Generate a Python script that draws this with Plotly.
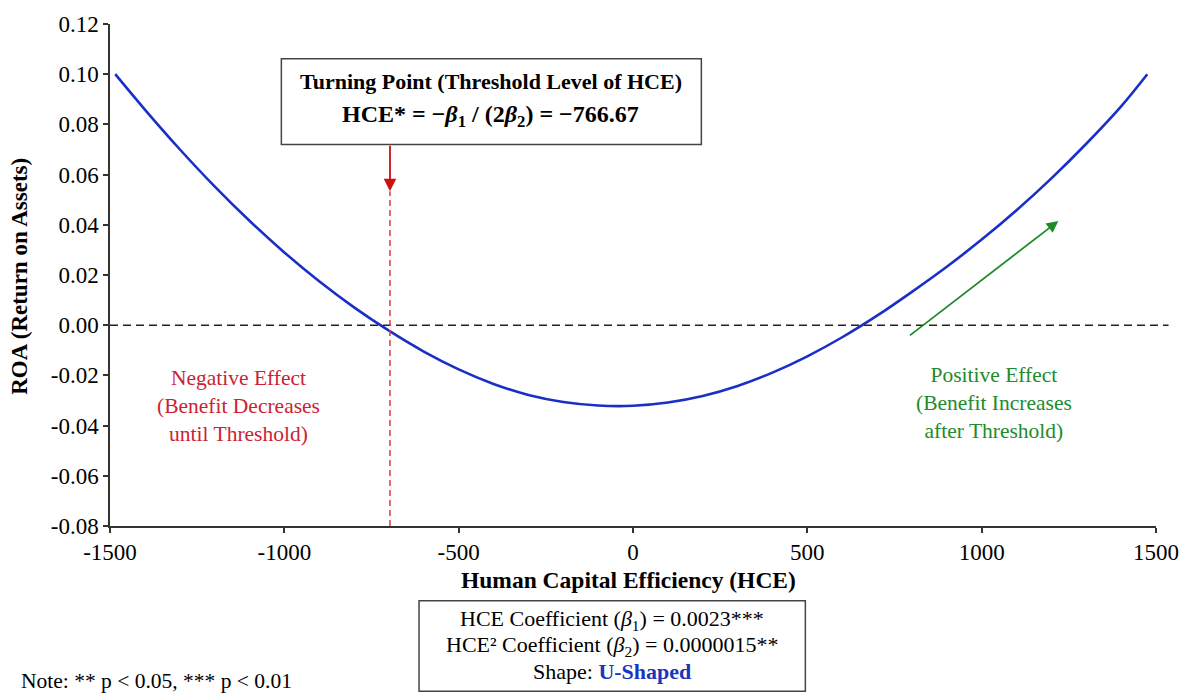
import plotly.graph_objects as go

# ---------------- data ----------------
hce = [-1485, -1400, -1300, -1200, -1100, -1000, -900, -800, -700, -600,
       -500, -400, -300, -200, -100, 0, 100, 200, 300, 400,
       500, 600, 700, 800, 900, 1000, 1100, 1200, 1300, 1400, 1475]
roa = [0.1000, 0.0859, 0.0701, 0.0553, 0.0416, 0.0290, 0.0175, 0.0071, -0.0022, -0.0105,
       -0.0176, -0.0234, -0.0278, -0.0306, -0.0320, -0.0321, -0.0308, -0.0282, -0.0242, -0.0189,
       -0.0124, -0.0048, 0.0038, 0.0133, 0.0233, 0.0341, 0.0458, 0.0585, 0.0723, 0.0872, 0.1000]

x_tickvals = [-1500, -1000, -500, 0, 500, 1000, 1500]
x_ticktext = ["-1500", "-1000", "-500", "0", "500", "1000", "1500"]
y_tickvals = [0.12, 0.10, 0.08, 0.06, 0.04, 0.02, 0.00, -0.02, -0.04, -0.06, -0.08]
y_ticktext = ["0.12", "0.10", "0.08", "0.06", "0.04", "0.02", "0.00", "-0.02", "-0.04", "-0.06", "-0.08"]

threshold_line_x = -697          # where the red dashed marker sits in the picture
green_arrow_tail = (790, -0.0045)
green_arrow_tip = (1220, 0.0415)

# ---------------- layout helpers ----------------
W, H = 1191, 694
PL, PR, PT, PB = 110, 1166, 22, 526
FONT = "Liberation Serif, Times New Roman, serif"


def px(x):
    return (x - PL) / (PR - PL)


def py(y):
    return (PB - y) / (PB - PT)


fig = go.Figure()
fig.add_trace(go.Scatter(x=hce, y=roa, mode="lines", line=dict(color="#1a2fc6", width=2.6, shape="spline"),
                         showlegend=False, hoverinfo="skip"))

shapes = []
# horizontal zero reference
shapes.append(dict(type="line", xref="paper", yref="y", x0=0, x1=1.012, y0=0, y1=0,
                   line=dict(color="#222222", width=1.5, dash="8px,5px")))
# red dashed threshold line
shapes.append(dict(type="line", xref="x", yref="paper", x0=threshold_line_x, x1=threshold_line_x,
                   y0=0, y1=py(190), line=dict(color="#e03c3c", width=1.5, dash="6px,4px")))
# top box
shapes.append(dict(type="rect", xref="paper", yref="paper", x0=px(283), x1=px(707), y0=py(143), y1=py(57),
                   line=dict(color="#444444", width=1.5), fillcolor="white", layer="above"))
# bottom box
shapes.append(dict(type="rect", xref="paper", yref="paper", x0=px(422), x1=px(812), y0=py(692), y1=py(601),
                   line=dict(color="#444444", width=1.5), fillcolor="white", layer="above"))

ann = []
# top box text
ann.append(dict(xref="paper", yref="paper", x=px(495), y=py(80), text="<b>Turning Point (Threshold Level of HCE)</b>",
                showarrow=False, font=dict(family=FONT, size=22, color="black"), xanchor="center", yanchor="middle"))
ann.append(dict(xref="paper", yref="paper", x=px(494), y=py(114),
                text="<b>HCE* = \u2212<i>\u03b2</i><sub>1</sub> / (2<i>\u03b2</i><sub>2</sub>) = \u2212766.67</b>",
                showarrow=False, font=dict(family=FONT, size=24, color="black"), xanchor="center", yanchor="middle"))
# red arrow from box to the dashed line
ann.append(dict(xref="x", yref="paper", x=threshold_line_x, y=py(190), ax=0, ay=-(190 - 143),
                axref="pixel", ayref="pixel", text="", showarrow=True, arrowhead=2, arrowsize=1.4,
                arrowwidth=1.8, arrowcolor="#cc1111"))
# green arrow
ann.append(dict(xref="x", yref="y", x=green_arrow_tip[0], y=green_arrow_tip[1],
                ax=green_arrow_tail[0], ay=green_arrow_tail[1], axref="x", ayref="y",
                text="", showarrow=True, arrowhead=2, arrowsize=1.3, arrowwidth=1.8, arrowcolor="#1f8a2a"))
# region texts
ann.append(dict(xref="paper", yref="paper", x=px(240), y=py(406),
                text="Negative Effect<br>(Benefit Decreases<br>until Threshold)", showarrow=False,
                font=dict(family=FONT, size=21.5, color="#cc2233"), align="center",
                xanchor="center", yanchor="middle"))
ann.append(dict(xref="paper", yref="paper", x=px(1002), y=py(403),
                text="Positive Effect<br>(Benefit Increases<br>after Threshold)", showarrow=False,
                font=dict(family=FONT, size=21.5, color="#228b2a"), align="center",
                xanchor="center", yanchor="middle"))
# axis titles
ann.append(dict(xref="paper", yref="paper", x=px(633), y=py(580), text="<b>Human Capital Efficiency (HCE)</b>",
                showarrow=False, font=dict(family=FONT, size=23.5, color="black"), xanchor="center", yanchor="middle"))
ann.append(dict(xref="paper", yref="paper", x=px(19), y=py(275), text="<b>ROA (Return on Assets)</b>",
                showarrow=False, textangle=-90, font=dict(family=FONT, size=23, color="black"),
                xanchor="center", yanchor="middle"))
# bottom box text
box_lines = [
    "HCE Coefficient (<i>\u03b2</i><sub>1</sub>) = 0.0023***",
    "HCE\u00b2 Coefficient (<i>\u03b2</i><sub>2</sub>) = 0.0000015**",
    "Shape: <b><span style='color:#1a36c0'>U-Shaped</span></b>",
]
for yy, t in zip([620, 646, 672], box_lines):
    ann.append(dict(xref="paper", yref="paper", x=px(617), y=py(yy), text=t, showarrow=False,
                    font=dict(family=FONT, size=22, color="black"), xanchor="center", yanchor="middle"))
# note
ann.append(dict(xref="paper", yref="paper", x=px(18), y=py(682), text="Note: ** p < 0.05, *** p < 0.01",
                showarrow=False, font=dict(family=FONT, size=21.5, color="black"), xanchor="left", yanchor="middle"))

fig.update_layout(
    width=W, height=H,
    margin=dict(l=PL, r=W - PR, t=PT, b=H - PB, pad=0),
    paper_bgcolor="white", plot_bgcolor="white",
    shapes=shapes, annotations=ann,
    showlegend=False,
    font=dict(family=FONT, size=22, color="black"),
)
fig.update_xaxes(range=[-1500, 1500], tickvals=x_tickvals, ticktext=x_ticktext, showgrid=False, zeroline=False,
                 showline=True, linecolor="#333333", linewidth=1.5, ticks="outside", ticklen=5, tickwidth=1.5,
                 tickcolor="#333333", tickfont=dict(family=FONT, size=23, color="black"))
fig.update_yaxes(range=[-0.08, 0.12], tickvals=y_tickvals, ticktext=y_ticktext, showgrid=False, zeroline=False,
                 showline=True, linecolor="#333333", linewidth=1.5, ticks="outside", ticklen=5, tickwidth=1.5,
                 tickcolor="#333333", tickfont=dict(family=FONT, size=23, color="black"))

fig.write_html("out.html", config={"displayModeBar": False},
               post_script="document.body.style.margin='0';document.body.style.overflow='hidden';")
